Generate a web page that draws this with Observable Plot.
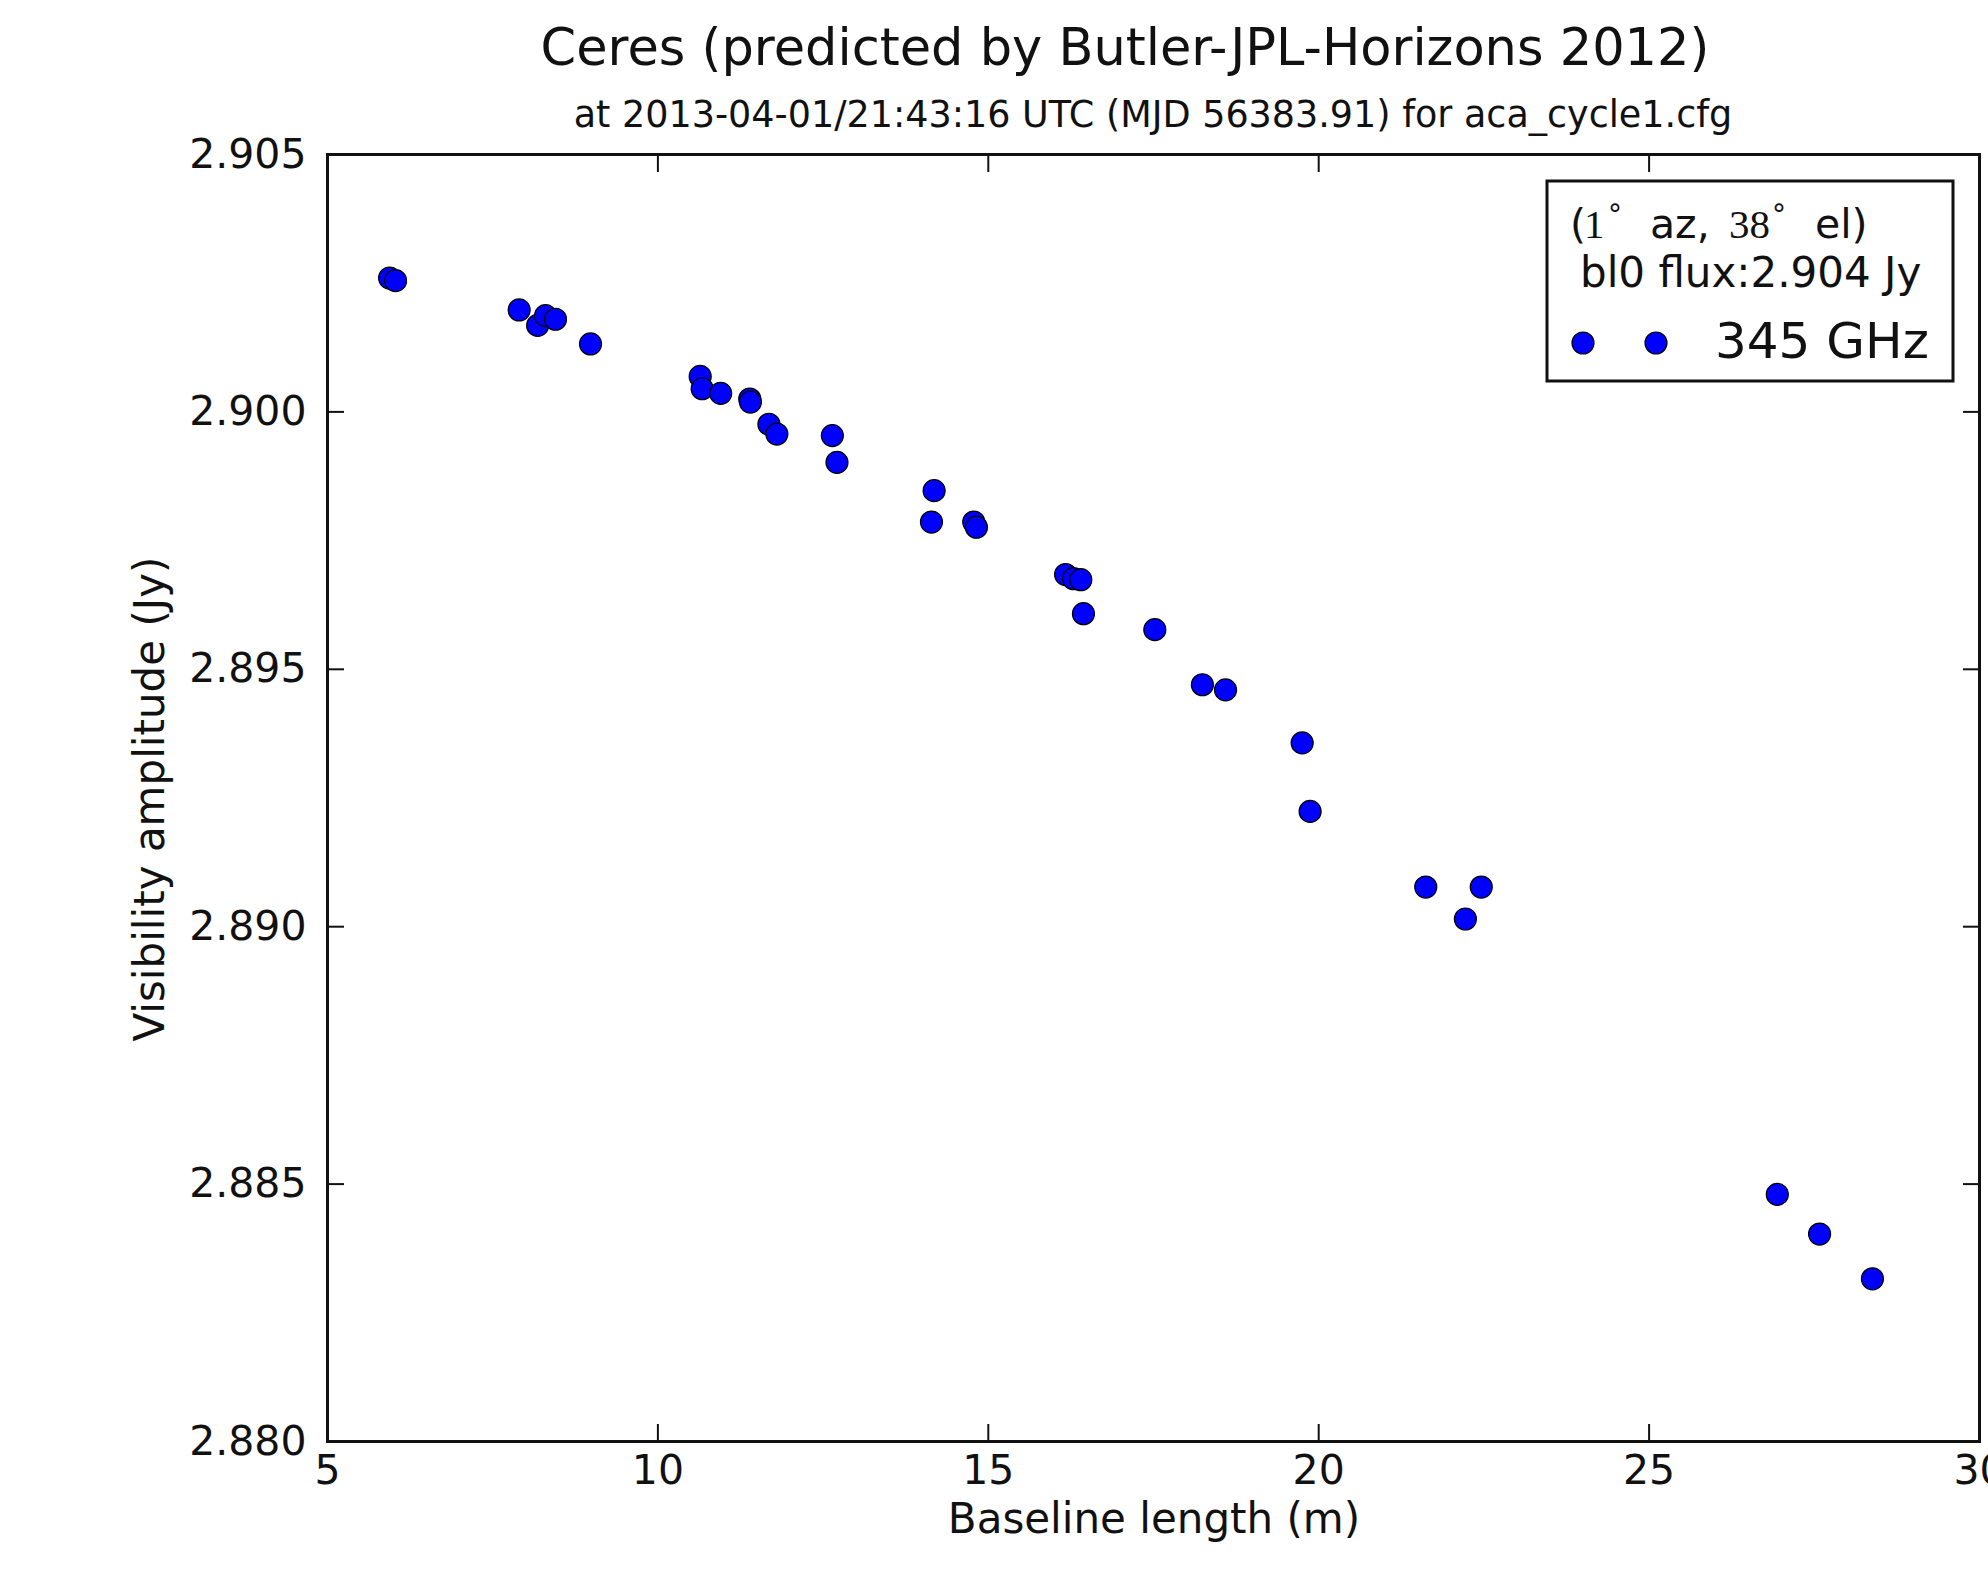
<!DOCTYPE html>
<html>
<head>
<meta charset="utf-8">
<script src="https://cdn.jsdelivr.net/npm/d3@7"></script>
<script src="https://cdn.jsdelivr.net/npm/@observablehq/plot@0.6"></script>
<style>
  html, body { margin: 0; padding: 0; background: #fff; overflow: hidden; }
  #fig { position: relative; width: 1988px; height: 1581px; font-family: "DejaVu Sans", sans-serif; color: #111; background: #fff; overflow: hidden; }
  .t { position: absolute; white-space: nowrap; z-index: 2; }
  #title { font-size: 51px; line-height: 60px; top: 18px; left: 1125px; transform: translateX(-50%); }
  #subtitle { font-size: 36.5px; line-height: 46px; top: 92px; left: 1153px; transform: translateX(-50%); }
  #xlabel { font-size: 42px; line-height: 42px; top: 1498px; left: 1154px; transform: translateX(-50%); }
  #ylabel { font-size: 42px; line-height: 42px; top: 799px; left: 150px; transform: translate(-50%, -50%) rotate(-90deg); }
  #chart { position: absolute; left: 0; top: 130px; z-index: 1; }
  #legend { position: absolute; left: 1544px; top: 178px; z-index: 3; }
</style>
</head>
<body>
<div id="fig">
  <div id="chart"></div>
  <div id="title" class="t">Ceres (predicted by Butler-JPL-Horizons 2012)</div>
  <div id="subtitle" class="t">at 2013-04-01/21:43:16 UTC (MJD 56383.91) for aca_cycle1.cfg</div>
  <div id="xlabel" class="t">Baseline length (m)</div>
  <div id="ylabel" class="t">Visibility amplitude (Jy)</div>
  <svg id="legend" width="412" height="206" xmlns="http://www.w3.org/2000/svg" style="font-family:'DejaVu Sans',sans-serif;">
    <rect x="3" y="3" width="406" height="200" fill="#fff" stroke="#111" stroke-width="3"/>
    <text y="60" font-size="41" fill="#111"><tspan x="26">(</tspan><tspan x="40" font-family="'Liberation Serif',serif">1</tspan><tspan x="64" dy="-14" font-size="28">°</tspan><tspan x="106" dy="14">az,</tspan><tspan x="185" font-family="'Liberation Serif',serif">38</tspan><tspan x="228" dy="-14" font-size="28">°</tspan><tspan x="271" dy="14">el)</tspan></text>
    <text x="36" y="109" font-size="42" fill="#111">bl0 flux:2.904 Jy</text>
    <circle cx="39" cy="165" r="11" fill="#0000ff" stroke="#000" stroke-width="1.2"/>
    <circle cx="112" cy="165" r="11" fill="#0000ff" stroke="#000" stroke-width="1.2"/>
    <text x="171" y="180" font-size="50" fill="#111">345 GHz</text>
  </svg>
</div>
<script>
// Data
const baseline = [5.94, 6.03, 7.90, 8.18, 8.30, 8.45, 8.98, 10.64, 10.67, 10.95,
  11.39, 11.40, 11.68, 11.80, 12.64, 12.71, 14.18, 14.14, 14.78, 14.82,
  16.17, 16.29, 16.40, 16.44, 17.52, 18.24, 18.59, 19.75, 19.87, 21.62,
  22.46, 22.22, 26.94, 27.58, 28.38];
const amplitude = [2.90260, 2.90255, 2.90198, 2.90168, 2.90187, 2.90180, 2.90132, 2.90069, 2.90045, 2.90036,
  2.90025, 2.90019, 2.89976, 2.89957, 2.89954, 2.89902, 2.89847, 2.89786, 2.89786, 2.89776,
  2.89684, 2.89676, 2.89674, 2.89608, 2.89577, 2.89470, 2.89460, 2.89357, 2.89224, 2.89077,
  2.89077, 2.89015, 2.88480, 2.88403, 2.88316];
const xTicks = [5, 10, 15, 20, 25, 30];
const yTicks = [2.880, 2.885, 2.890, 2.895, 2.900, 2.905];
const xDomain = [5, 30];
const yDomain = [2.880, 2.905];

const data = baseline.map((b, i) => ({baseline: b, amplitude: amplitude[i]}));

const chart = Plot.plot({
  width: 1988,
  height: 1451,
  marginTop: 24,
  marginBottom: 140,
  marginLeft: 327,
  marginRight: 9,
  style: {fontFamily: "'DejaVu Sans', sans-serif", fontSize: "41px", color: "#111", background: "transparent", overflow: "visible"},
  x: {domain: xDomain},
  y: {domain: yDomain},
  marks: [
    Plot.axisX(xTicks, {anchor: "bottom", tickSize: -17, tickPadding: 30, strokeWidth: 2, tickFormat: d => String(d), label: null}),
    Plot.axisX(xTicks, {anchor: "top", tickSize: -17, tickPadding: 0, strokeWidth: 2, tickFormat: () => "", label: null}),
    Plot.axisY(yTicks, {anchor: "left", tickSize: -17, tickPadding: 38, strokeWidth: 2, tickFormat: d3.format(".3f"), label: null}),
    Plot.axisY(yTicks, {anchor: "right", tickSize: -17, tickPadding: 0, strokeWidth: 2, tickFormat: () => "", label: null}),
    Plot.frame({stroke: "#111", strokeWidth: 3}),
    Plot.dot(data, {x: "baseline", y: "amplitude", r: 11, fill: "#0000ff", stroke: "#000", strokeWidth: 1.2})
  ]
});
document.getElementById("chart").appendChild(chart);
</script>
</body>
</html>
